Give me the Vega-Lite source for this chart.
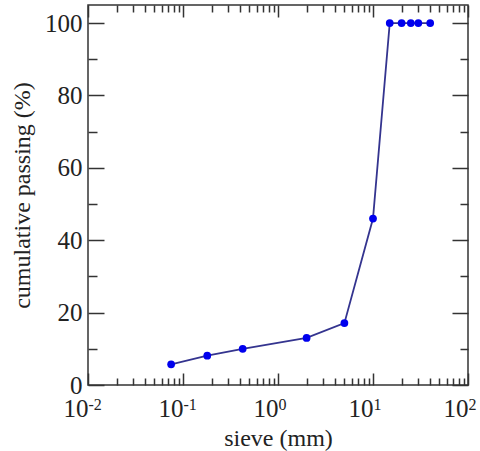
{
  "$schema": "https://vega.github.io/schema/vega-lite/v6.json",
  "width": 380,
  "height": 380,
  "autosize": "none",
  "padding": {"left": 88, "top": 5, "right": 12, "bottom": 66},
  "background": "white",
  "config": {
    "view": {"stroke": "#333333", "strokeWidth": 1.5},
    "axis": {
      "grid": false,
      "domain": false,
      "labelFont": "Liberation Serif",
      "titleFont": "Liberation Serif",
      "labelColor": "#222222",
      "titleColor": "#222222",
      "titleFontWeight": "normal",
      "tickColor": "#333333",
      "tickWidth": 1.5,
      "labelFlush": false,
      "labelOverlap": false,
      "labelBound": false
    }
  },
  "data": {
    "values": [
      {"sieve": 0.075, "passing": 5.7},
      {"sieve": 0.18, "passing": 8.1},
      {"sieve": 0.425, "passing": 10.0},
      {"sieve": 2, "passing": 13.0},
      {"sieve": 5, "passing": 17.1},
      {"sieve": 10, "passing": 46.0},
      {"sieve": 15, "passing": 100},
      {"sieve": 20, "passing": 100},
      {"sieve": 25, "passing": 100},
      {"sieve": 30, "passing": 100},
      {"sieve": 40, "passing": 100}
    ]
  },
  "resolve": {"axis": {"x": "independent", "y": "independent"}},
  "layer": [
    {
      "mark": {"type": "line", "color": "#34348f", "strokeWidth": 1.8},
      "encoding": {
        "x": {
          "field": "sieve", "type": "quantitative",
          "scale": {"type": "log", "domain": [0.01, 100], "nice": false},
          "axis": {
            "orient": "bottom", "values": [0.01, 0.1, 1, 10, 100],
            "tickSize": -12, "labelExpr": "'10'", "labelAlign": "right", "labelDx": 5,
            "labelBaseline": "alphabetic",
            "labelFontSize": 25, "labelPadding": 43,
            "title": "sieve (mm)", "titleFontSize": 24, "titlePadding": 5
          }
        },
        "y": {
          "field": "passing", "type": "quantitative",
          "scale": {"domain": [0, 105], "nice": false, "zero": true},
          "axis": {
            "orient": "left", "values": [0, 20, 40, 60, 80, 100],
            "tickSize": -16, "labelFontSize": 25, "labelPadding": 22,
            "title": "cumulative passing (%)", "titleFontSize": 24, "titlePadding": 10
          }
        }
      }
    },
    {
      "mark": {"type": "point", "filled": true, "color": "#0000ee", "size": 60, "opacity": 1},
      "encoding": {
        "x": {
          "field": "sieve", "type": "quantitative",
          "scale": {"type": "log", "domain": [0.01, 100], "nice": false},
          "axis": {
            "orient": "bottom", "values": [0.01, 0.1, 1, 10, 100],
            "ticks": false, "tickSize": 0,
            "labelExpr": "datum.value < 0.05 ? '-2' : datum.value < 0.5 ? '-1' : datum.value < 5 ? '0' : datum.value < 50 ? '1' : '2'",
            "labelAlign": "left", "labelDx": 6, "labelBaseline": "alphabetic",
            "labelFontSize": 16, "labelPadding": 24,
            "title": null
          }
        },
        "y": {
          "field": "passing", "type": "quantitative",
          "scale": {"domain": [0, 105], "nice": false},
          "axis": {
            "orient": "left", "values": [10, 30, 50, 70, 90],
            "tickSize": -9, "labels": false, "title": null
          }
        }
      }
    },
    {
      "mark": {"type": "point", "opacity": 0},
      "encoding": {
        "x": {
          "field": "sieve", "type": "quantitative",
          "scale": {"type": "log", "domain": [0.01, 100], "nice": false},
          "axis": {
            "orient": "bottom",
            "values": [0.02, 0.03, 0.04, 0.05, 0.06, 0.07, 0.08, 0.09, 0.2, 0.3, 0.4, 0.5, 0.6, 0.7, 0.8, 0.9, 2, 3, 4, 5, 6, 7, 8, 9, 20, 30, 40, 50, 60, 70, 80, 90],
            "tickSize": -7, "labels": false, "title": null
          }
        },
        "y": {
          "field": "passing", "type": "quantitative",
          "scale": {"domain": [0, 105], "nice": false},
          "axis": {
            "orient": "right", "values": [0, 20, 40, 60, 80, 100],
            "tickSize": -16, "labels": false, "title": null
          }
        }
      }
    },
    {
      "mark": {"type": "point", "opacity": 0},
      "encoding": {
        "x": {
          "field": "sieve", "type": "quantitative",
          "scale": {"type": "log", "domain": [0.01, 100], "nice": false},
          "axis": {
            "orient": "top", "values": [0.01, 0.1, 1, 10, 100],
            "tickSize": -12, "labels": false, "title": null
          }
        },
        "y": {
          "field": "passing", "type": "quantitative",
          "scale": {"domain": [0, 105], "nice": false},
          "axis": {
            "orient": "right", "values": [10, 30, 50, 70, 90],
            "tickSize": -8, "labels": false, "title": null
          }
        }
      }
    },
    {
      "mark": {"type": "point", "opacity": 0},
      "encoding": {
        "x": {
          "field": "sieve", "type": "quantitative",
          "scale": {"type": "log", "domain": [0.01, 100], "nice": false},
          "axis": {
            "orient": "top",
            "values": [0.02, 0.03, 0.04, 0.05, 0.06, 0.07, 0.08, 0.09, 0.2, 0.3, 0.4, 0.5, 0.6, 0.7, 0.8, 0.9, 2, 3, 4, 5, 6, 7, 8, 9, 20, 30, 40, 50, 60, 70, 80, 90],
            "tickSize": -7, "labels": false, "title": null
          }
        },
        "y": {
          "field": "passing", "type": "quantitative",
          "scale": {"domain": [0, 105], "nice": false},
          "axis": null
        }
      }
    }
  ]
}
